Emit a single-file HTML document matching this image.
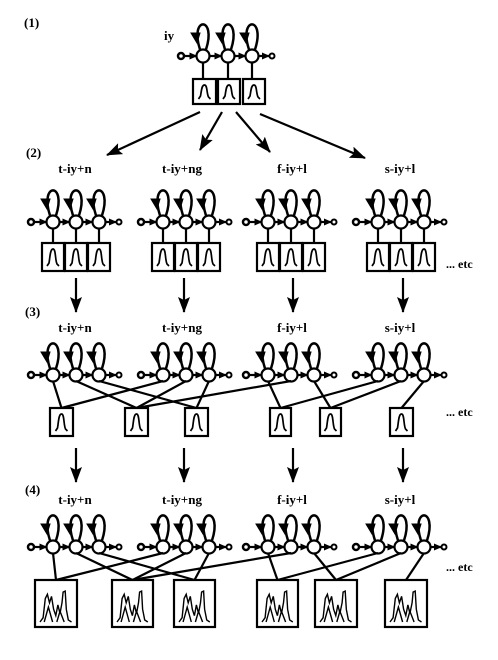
<!DOCTYPE html>
<html><head><meta charset="utf-8"><style>
html,body{margin:0;padding:0;background:#fff;}
svg{display:block;}
text{font-family:"Liberation Serif",serif;font-weight:bold;font-size:13px;fill:#000;}
</style></head><body>
<svg id="s" width="498" height="660" viewBox="0 0 498 660" xmlns="http://www.w3.org/2000/svg">
<defs>
<marker id="ah" markerWidth="8" markerHeight="8" refX="7" refY="4" orient="auto" markerUnits="userSpaceOnUse"><path d="M0,0.5 L8,4 L0,7.5 Z" fill="#000"/></marker>
<marker id="bh" markerWidth="16" markerHeight="12" refX="15" refY="6" orient="auto" markerUnits="userSpaceOnUse"><path d="M0,0 L16,6 L0,12 L3,6 Z" fill="#000"/></marker>
</defs>
<text x="24" y="27">(1)</text>
<text x="164" y="40">iy</text>
<text x="26" y="157">(2)</text>
<text x="75" y="173" text-anchor="middle">t-iy+n</text>
<text x="182" y="173" text-anchor="middle">t-iy+ng</text>
<text x="292" y="173" text-anchor="middle">f-iy+l</text>
<text x="400" y="173" text-anchor="middle">s-iy+l</text>
<text x="25" y="316">(3)</text>
<text x="75" y="332" text-anchor="middle">t-iy+n</text>
<text x="182" y="332" text-anchor="middle">t-iy+ng</text>
<text x="292" y="332" text-anchor="middle">f-iy+l</text>
<text x="400" y="332" text-anchor="middle">s-iy+l</text>
<text x="25" y="494">(4)</text>
<text x="75" y="504" text-anchor="middle">t-iy+n</text>
<text x="182" y="504" text-anchor="middle">t-iy+ng</text>
<text x="292" y="504" text-anchor="middle">f-iy+l</text>
<text x="400" y="504" text-anchor="middle">s-iy+l</text>
<text x="446" y="268" style="font-size:12px">... etc</text>
<text x="446" y="416" style="font-size:12px">... etc</text>
<text x="446" y="571" style="font-size:12px">... etc</text>
<g id="g" stroke="#000" fill="none" stroke-width="2.2"></g>
</svg>
<script>
var g=document.getElementById('g'),o='';
function L(x1,y1,x2,y2,m){o+='<line x1="'+x1+'" y1="'+y1+'" x2="'+x2+'" y2="'+y2+'"'+(m?' marker-end="url(#'+m+')"':'')+'/>';}
function hmm(xs,y){var r=6.5;
 o+='<circle cx="'+(xs[0]-22)+'" cy="'+y+'" r="3" fill="#fff" stroke-width="2.5"/>';
 L(xs[0]-19,y,xs[0]-r,y,'ah');
 for(var i=0;i<3;i++){var x=xs[i];
  o+='<circle cx="'+x+'" cy="'+y+'" r="'+r+'" fill="#fff"/>';
  o+='<path stroke-width="2.5" d="M'+(x-3)+','+(y-r)+' C'+(x-14)+','+(y-40)+' '+(x+14)+','+(y-40)+' '+(x+3)+','+(y-r)+'"/>';
  o+='<path d="M'+(x-12)+','+(y-23)+' L'+(x-3)+','+(y-23)+' L'+(x-6)+','+(y-13)+'Z" fill="#000" stroke-width="1"/>';
  if(i<2)L(x+r,y,xs[i+1]-r,y,'ah');}
 L(xs[2]+r,y,xs[2]+17,y,'ah');
 o+='<circle cx="'+(xs[2]+20)+'" cy="'+y+'" r="2.5" fill="#fff" stroke-width="2"/>';}
function box(x,y,w,h,multi){o+='<rect x="'+x+'" y="'+y+'" width="'+w+'" height="'+h+'" fill="#fff"/>';
 var b=y+h-5,t=y+6;
 if(!multi){var c=x+w/2;o+='<path stroke-width="1.7" d="M'+(c-6)+','+b+' L'+(c-4)+','+(b-3)+' C'+(c-3)+','+(b-8)+' '+(c-3)+','+t+' '+c+','+t+' C'+(c+3)+','+t+' '+(c+2)+','+(b-6)+' '+(c+4)+','+(b-2)+' L'+(c+6)+','+b+'"/>';}
 else{var s=w/40,X=function(v){return (x+5+v*s).toFixed(1)},Y=function(v){return (t+4+v*(b-t-4)/30).toFixed(1)};
  var pts=[[0,30],[3,26],[5,8],[7,4],[9,12],[11,6],[13,18],[15,24],[17,14],[19,22],[21,12],[22,2],[24,1],[25,18],[27,28],[30,30]];
  var d='M'+X(pts[0][0])+','+Y(pts[0][1]);pts.slice(1).forEach(function(p){d+=' L'+X(p[0])+','+Y(p[1]);});
  o+='<path stroke-width="1.4" d="'+d+'"/>';
  o+='<path stroke-width="1.4" d="M'+X(4)+','+Y(30)+' L'+X(8)+','+Y(16)+' L'+X(12)+','+Y(30)+' M'+X(16)+','+Y(30)+' L'+X(19)+','+Y(20)+' L'+X(23)+','+Y(30)+'"/>';}}
var s1=[203,228,252];hmm(s1,56);
[[193,216],[218,240],[243,265]].forEach(function(b,i){L(s1[i],62,s1[i],79);box(b[0],79,b[1]-b[0],25);});
L(200,112,107,155,'bh');L(222,112,200,150,'bh');L(236,112,270,152,'bh');L(260,114,365,158,'bh');
var G=[53,163,268,378];
G.forEach(function(x0){var xs=[x0,x0+23,x0+46];hmm(xs,222);
 xs.forEach(function(x){L(x,228,x,243);box(x-11,243,22,28);});});
[76,184,293,403].forEach(function(x){L(x,278,x,312,'bh');L(x,448,x,482,'bh');});
var b3=[[50,23],[125,23],[185,23],[270,21],[320,21],[390,23]];
G.forEach(function(x0){hmm([x0,x0+23,x0+46],375);});
var c3=[[0,0],[0,1],[0,2],[1,0],[1,1],[1,2],[2,0],[2,2],[2,1],[3,0],[3,1],[3,2]];
var tgt3=[0,1,2,0,1,2,3,4,1,3,4,5];
c3.forEach(function(c,i){var x=G[c[0]]+23*c[1],b=b3[tgt3[i]];L(x,381,b[0]+b[1]/2,408);});
b3.forEach(function(b){box(b[0],408,b[1],28);});
var b4=[[35,42],[112,41],[174,41],[257,41],[315,42],[385,42]];
G.forEach(function(x0){hmm([x0,x0+23,x0+46],547);});
c3.forEach(function(c,i){var x=G[c[0]]+23*c[1],b=b4[tgt3[i]];L(x,553,b[0]+b[1]/2,580);});
b4.forEach(function(b){box(b[0],580,b[1],47,true);});
g.innerHTML=o;
</script>
</body></html>
